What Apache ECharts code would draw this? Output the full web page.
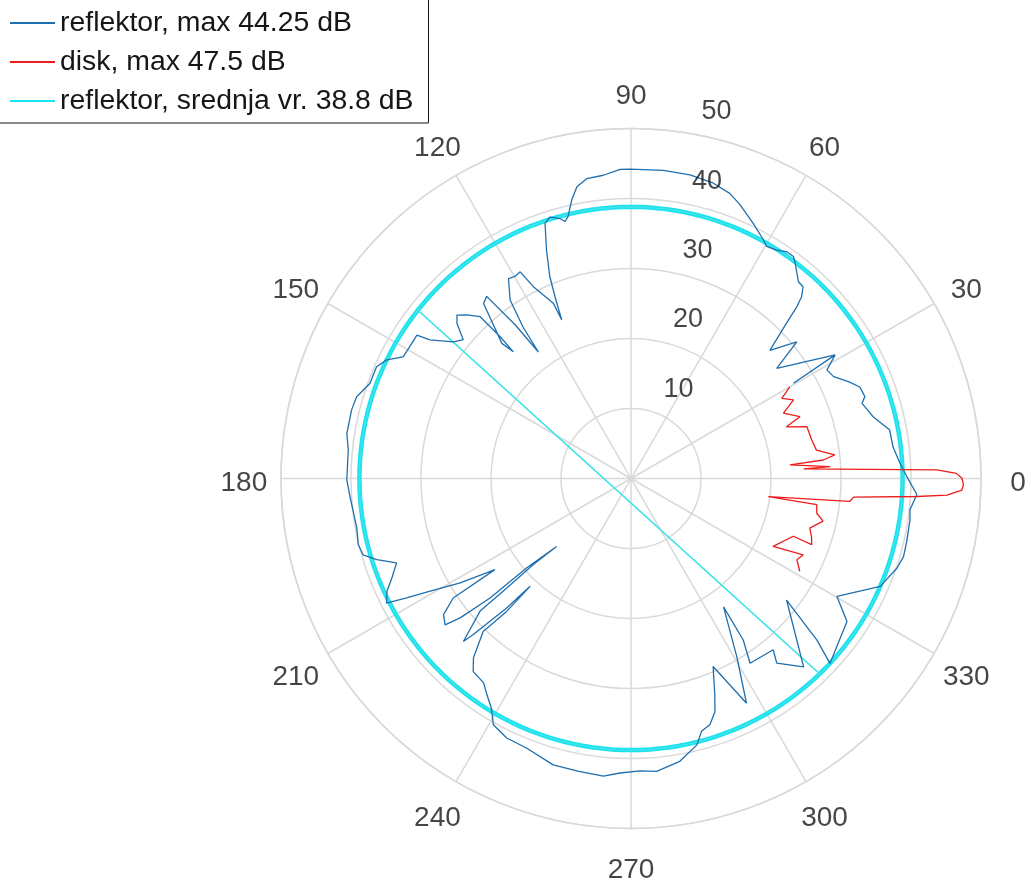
<!DOCTYPE html>
<html>
<head>
<meta charset="utf-8">
<script src="https://cdn.jsdelivr.net/npm/echarts/dist/echarts.min.js"></script>
<style>
  html, body { margin: 0; padding: 0; background: #ffffff; }
  #chart { width: 1031px; height: 886px; }
</style>
</head>
<body>
<div id="chart"></div>
<script>
// Reflector pattern: measured level (dB) against rotation angle (deg), in measurement order
const reflektorAngle = [30.4, 31.2, 37.1, 39.5, 42.7, 45.2, 46.0, 46.8, 48.1, 49.6, 52.7, 53.8, 55.5, 57.5, 59.7, 61.0, 64.4, 68.3, 70.9, 74.4, 79.0, 84.0, 90.2, 92.0, 95.2, 98.4, 100.5, 102.0, 103.5, 104.4, 105.3, 107.2, 108.6, 110.3, 111.9, 112.7, 113.6, 113.9, 117.0, 118.2, 119.9, 121.5, 124.1, 125.5, 126.2, 127.0, 128.4, 130.1, 133.7, 132.9, 132.7, 133.0, 135.1, 136.8, 138.3, 140.4, 142.4, 145.4, 146.2, 149.2, 151.9, 154.1, 156.3, 160.0, 163.4, 166.2, 171.0, 174.2, 180.3, 184.0, 190.2, 193.6, 195.9, 197.7, 199.8, 202.6, 204.8, 207.0, 208.0, 209.3, 211.4, 213.8, 213.9, 216.0, 218.2, 219.2, 220.3, 220.6, 222.4, 221.4, 221.4, 221.3, 224.2, 224.7, 226.2, 226.9, 226.9, 226.0, 228.7, 230.7, 234.2, 236.3, 238.7, 240.8, 244.4, 248.8, 254.8, 259.9, 264.7, 267.9, 271.8, 275.0, 279.8, 283.9, 285.6, 287.8, 289.8, 291.2, 293.6, 297.2, 300.7, 305.8, 304.8, 302.8, 309.7, 308.3, 312.5, 322.0, 319.0, 317.1, 326.5, 330.2, 336.6, 341.4, 344.0, 347.2, 351.5, 353.6, 356.8, 0.4, 3.2, 6.9, 10.6, 14.3, 18.0, 19.3, 21.8, 24.0, 26.7, 29.0, 31.2];
const reflektorDb = [26.9, 34.1, 26.1, 30.7, 27.0, 31.9, 34.1, 35.6, 36.8, 36.9, 38.7, 39.3, 39.3, 38.7, 38.4, 39.0, 40.4, 42.1, 43.1, 43.8, 44.2, 44.25, 44.2, 44.2, 43.5, 43.3, 42.4, 40.7, 38.5, 37.9, 38.5, 39.1, 38.5, 34.8, 31.1, 28.1, 24.7, 27.4, 30.8, 33.5, 33.3, 33.5, 30.8, 26.5, 22.4, 27.5, 33.2, 32.7, 26.7, 24.7, 27.6, 31.6, 33.1, 34.1, 33.3, 31.1, 32.0, 34.9, 36.8, 36.8, 36.9, 38.8, 39.7, 39.7, 40.9, 41.1, 41.1, 40.6, 40.6, 40.2, 39.8, 40.1, 39.8, 38.1, 35.6, 37.0, 38.4, 39.2, 36.3, 32.9, 28.6, 23.4, 30.6, 33.1, 33.8, 31.5, 26.4, 19.6, 14.4, 18.6, 23.7, 28.7, 33.4, 31.7, 25.6, 21.1, 26.0, 30.4, 34.1, 35.6, 36.0, 37.1, 38.4, 40.3, 41.1, 41.3, 42.4, 42.5, 42.7, 42.1, 41.8, 42.0, 41.0, 39.2, 37.5, 36.9, 35.4, 33.1, 29.3, 36.1, 29.6, 22.6, 28.1, 31.4, 31.8, 33.6, 36.5, 28.2, 35.2, 38.8, 37.0, 33.9, 38.8, 40.1, 40.5, 40.4, 40.3, 40.1, 40.9, 39.4, 38.5, 37.7, 37.6, 35.7, 34.7, 35.4, 35.2, 34.0, 32.4, 32.0, 34.1];

// Disk pattern over the forward sector only
const diskAngle = [30.0, 28.0, 25.8, 23.2, 20.1, 18.4, 16.4, 12.0, 8.7, 6.6, 5.5, 4.9, 3.4, 3.2, 1.6, 0.9, 0.0, 358.9, 358.0, 357.0, 356.4, 355.2, 354.0, 352.5, 352.0, 349.4, 347.5, 344.5, 342.1, 339.9, 340.4, 334.5, 336.1, 333.9, 331.2];
const diskDb = [26.2, 24.4, 25.8, 23.7, 25.7, 23.4, 26.2, 26.4, 26.8, 29.3, 27.6, 22.8, 28.5, 24.7, 43.7, 46.5, 47.3, 47.5, 47.3, 45.2, 40.9, 31.9, 31.4, 19.8, 26.8, 27.0, 28.1, 26.5, 27.1, 27.5, 24.6, 22.5, 26.9, 26.4, 27.5];

// Mean reflector level; the trace starts with a jump across the plot
const srednjaDb = 38.8;
const srednjaJump = [141.7, 314.0];

// Tick labels
const thetaTicks = [0, 30, 60, 90, 120, 150, 180, 210, 240, 270, 300, 330];
const rTicks = [10, 20, 30, 40, 50];

const legendNames = ['reflektor, max 44.25 dB', 'disk, max 47.5 dB', 'reflektor, srednja vr. 38.8 dB'];

const gridColor = '#d9d9d9';
const textColor = '#161616';
const fontFamily = '"Liberation Sans", Arial, Helvetica, sans-serif';

const reflektorData = reflektorAngle.map((a, i) => [reflektorDb[i], a]);
const diskData = diskAngle.map((a, i) => [diskDb[i], a]);

// constant mean level sampled around the full turn
const ringData = [];
for (let a = srednjaJump[1]; a <= srednjaJump[1] + 360; a += 2) {
  ringData.push([srednjaDb, a % 360]);
}
const meanData = [[srednjaDb, srednjaJump[0]]].concat(ringData);

const chart = echarts.init(document.getElementById('chart'), null, { renderer: 'canvas' });

chart.setOption({
  animation: false,
  backgroundColor: '#ffffff',
  textStyle: { fontFamily: fontFamily },
  legend: {
    data: legendNames,
    orient: 'vertical',
    left: -12,
    top: -12,
    padding: [20, 15, 7, 22],
    itemGap: 9,
    itemWidth: 45,
    itemHeight: 2,
    icon: 'rect',
    borderColor: textColor,
    borderWidth: 1,
    backgroundColor: '#ffffff',
    textStyle: { fontSize: 28.4, color: textColor, fontFamily: fontFamily, lineHeight: 30 }
  },
  polar: { center: [631, 478.5], radius: 350 },
  angleAxis: {
    type: 'value',
    min: 0,
    max: 360,
    interval: 30,
    startAngle: 0,
    clockwise: false,
    axisLine: { show: true, lineStyle: { color: gridColor, width: 1.5 } },
    axisTick: { show: false },
    axisLabel: { show: false },
    splitLine: { show: true, lineStyle: { color: gridColor, width: 1.5 } }
  },
  radiusAxis: {
    type: 'value',
    min: 0,
    max: 50,
    interval: 10,
    axisLine: { show: false },
    axisTick: { show: false },
    axisLabel: { show: false },
    splitLine: { show: true, lineStyle: { color: gridColor, width: 1.5 } }
  },
  series: [
    {
      name: legendNames[2],
      type: 'line',
      coordinateSystem: 'polar',
      data: ringData,
      showSymbol: false,
      clip: false,
      silent: true,
      z: 2,
      lineStyle: { color: '#19e3ee', width: 4.5 },
      itemStyle: { color: '#19e3ee' }
    },
    {
      name: legendNames[2],
      type: 'line',
      coordinateSystem: 'polar',
      data: meanData,
      showSymbol: false,
      clip: false,
      z: 2,
      lineStyle: { color: '#3fe3e8', width: 1.5 },
      itemStyle: { color: '#19e3ee' }
    },
    {
      name: legendNames[0],
      type: 'line',
      coordinateSystem: 'polar',
      data: reflektorData,
      showSymbol: false,
      clip: false,
      z: 3,
      lineStyle: { color: '#1f6fae', width: 1.3 },
      itemStyle: { color: '#1f6fae' }
    },
    {
      name: legendNames[1],
      type: 'line',
      coordinateSystem: 'polar',
      data: diskData,
      showSymbol: false,
      clip: false,
      z: 4,
      lineStyle: { color: '#ec1c1c', width: 1.3 },
      itemStyle: { color: '#ec1c1c' }
    },
    {
      // angle tick labels, centred just outside the outer ring
      type: 'scatter',
      coordinateSystem: 'polar',
      data: thetaTicks.map(t => [55.3, t]),
      symbolSize: 1,
      clip: false,
      silent: true,
      z: 5,
      itemStyle: { color: 'transparent' },
      label: {
        show: true,
        position: 'inside',
        offset: [0, 5],
        formatter: p => String(thetaTicks[p.dataIndex]),
        fontSize: 28,
        color: textColor,
        fontFamily: fontFamily
      }
    },
    {
      // radius tick labels along the 82 degree ray
      type: 'scatter',
      coordinateSystem: 'polar',
      data: rTicks.map(v => [v, 82.2]),
      symbolSize: 1,
      clip: false,
      silent: true,
      z: 5,
      itemStyle: { color: 'transparent' },
      label: {
        show: true,
        position: 'inside',
        offset: [38, -20],
        formatter: p => String(rTicks[p.dataIndex]),
        fontSize: 27,
        color: textColor,
        fontFamily: fontFamily
      }
    }
  ]
});
</script>
</body>
</html>
